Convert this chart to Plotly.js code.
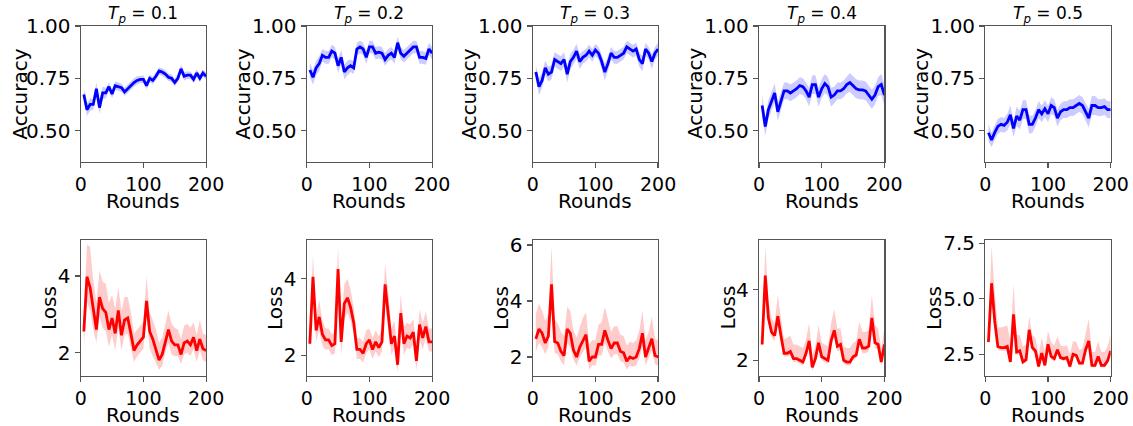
<!DOCTYPE html>
<html>
<head>
<meta charset="utf-8">
<script src="https://cdn.plot.ly/plotly-3.0.1.min.js"></script>
<style>html,body{margin:0;padding:0;background:#fff;}#chart{width:1133px;height:426px;}</style>
</head>
<body>
<div id="chart"></div>
<script>
// ---------- DATA ----------
const rounds = [5,10,15,20,25,30,35,40,45,50,55,60,65,70,75,80,85,90,95,100,
                105,110,115,120,125,130,135,140,145,150,155,160,165,170,175,180,185,190,195,200];

const tpLabels = ["0.1","0.2","0.3","0.4","0.5"];

// Accuracy means
const acc01 = [0.673,0.60,0.625,0.625,0.70,0.61,0.68,0.68,0.71,0.675,0.715,0.71,0.705,0.685,0.70,0.72,0.73,0.74,0.745,0.745,
               0.715,0.75,0.74,0.76,0.785,0.78,0.77,0.755,0.75,0.73,0.75,0.795,0.76,0.765,0.765,0.745,0.775,0.75,0.775,0.76];
const acc02 = [0.79,0.755,0.80,0.82,0.86,0.85,0.85,0.88,0.87,0.81,0.85,0.78,0.80,0.81,0.80,0.89,0.90,0.89,0.85,0.90,
               0.90,0.87,0.875,0.87,0.84,0.86,0.87,0.85,0.92,0.87,0.855,0.87,0.88,0.90,0.90,0.85,0.85,0.845,0.89,0.87];
const acc03 = [0.78,0.71,0.74,0.80,0.77,0.78,0.84,0.83,0.82,0.84,0.77,0.83,0.85,0.88,0.83,0.85,0.86,0.88,0.86,0.885,
               0.87,0.83,0.78,0.82,0.87,0.85,0.85,0.86,0.87,0.90,0.89,0.88,0.89,0.84,0.82,0.89,0.87,0.83,0.87,0.89];
const acc04 = [0.62,0.52,0.60,0.64,0.68,0.59,0.64,0.69,0.69,0.68,0.69,0.70,0.715,0.71,0.69,0.66,0.72,0.72,0.66,0.70,
               0.725,0.71,0.66,0.67,0.69,0.69,0.70,0.72,0.73,0.715,0.70,0.695,0.695,0.69,0.67,0.65,0.67,0.71,0.72,0.67];
const acc05 = [0.49,0.455,0.49,0.52,0.53,0.525,0.54,0.575,0.51,0.57,0.55,0.60,0.60,0.53,0.53,0.56,0.60,0.58,0.605,0.58,
               0.62,0.61,0.56,0.59,0.60,0.60,0.61,0.61,0.62,0.63,0.62,0.59,0.56,0.62,0.62,0.61,0.61,0.615,0.60,0.60];

// Accuracy band half-widths
const accBand01 = [0.03,0.03,0.03,0.025,0.03,0.03,0.03,0.025,0.02,0.02,0.02,0.02,0.02,0.02,0.02,0.02,0.02,0.02,0.018,0.018,
                   0.018,0.018,0.018,0.018,0.018,0.018,0.018,0.018,0.018,0.018,0.018,0.02,0.02,0.018,0.018,0.018,0.018,0.018,0.018,0.018];
const accBand02 = [0.035,0.035,0.035,0.035,0.03,0.03,0.03,0.03,0.03,0.035,0.035,0.035,0.035,0.03,0.03,0.03,0.03,0.03,0.03,0.03,
                   0.03,0.03,0.03,0.03,0.03,0.03,0.03,0.03,0.03,0.03,0.03,0.03,0.03,0.03,0.03,0.03,0.03,0.03,0.03,0.03];
const accBand03 = [0.03,0.04,0.035,0.035,0.035,0.035,0.035,0.035,0.035,0.035,0.04,0.035,0.035,0.035,0.035,0.03,0.03,0.03,0.03,0.03,
                   0.03,0.035,0.04,0.035,0.03,0.03,0.03,0.03,0.03,0.03,0.03,0.03,0.03,0.035,0.035,0.03,0.03,0.035,0.03,0.03];
const accBand04 = [0.05,0.045,0.045,0.045,0.045,0.045,0.045,0.04,0.04,0.04,0.04,0.04,0.04,0.04,0.04,0.045,0.045,0.045,0.045,0.045,
                   0.045,0.045,0.045,0.04,0.04,0.04,0.04,0.04,0.045,0.045,0.045,0.045,0.045,0.045,0.045,0.045,0.045,0.045,0.05,0.05];
const accBand05 = [0.04,0.035,0.035,0.035,0.035,0.035,0.04,0.045,0.04,0.045,0.045,0.045,0.045,0.045,0.04,0.04,0.04,0.04,0.04,0.04,
                   0.04,0.04,0.04,0.04,0.04,0.04,0.04,0.04,0.04,0.04,0.04,0.04,0.045,0.045,0.045,0.04,0.04,0.04,0.04,0.04];

// Loss means
const loss01 = [2.55,3.98,3.7,3.1,2.6,3.45,3.15,3.05,2.6,2.9,2.5,3.1,2.45,2.85,2.9,2.5,2.05,2.2,2.3,2.4,
                3.35,2.55,2.35,2.1,1.8,1.95,2.3,2.6,2.3,2.2,2.2,1.95,2.25,2.3,2.2,2.4,2.05,2.35,2.1,2.05];
const loss02 = [2.3,4.05,2.65,3.0,2.55,2.4,2.4,2.25,2.3,4.25,2.35,3.35,3.5,3.25,2.85,2.15,2.15,2.05,2.3,2.4,
                2.15,2.35,2.2,2.35,3.85,3.15,2.3,2.5,1.75,3.1,2.3,2.5,2.45,2.6,1.85,2.8,2.45,2.75,2.35,2.35];
const loss03 = [2.65,3.0,2.85,2.5,2.75,4.6,2.55,2.5,2.2,2.05,3.0,2.85,2.25,2.0,2.35,2.6,2.8,1.85,2.0,2.0,
                2.45,2.45,2.95,2.6,2.3,2.5,2.5,2.2,2.15,1.85,2.0,1.95,2.0,2.3,2.85,2.0,2.3,2.65,2.05,2.0];
const loss04 = [2.45,4.4,3.2,2.8,2.7,3.25,2.7,2.2,2.2,2.25,2.05,2.05,2.0,1.95,2.2,2.55,1.8,2.05,2.5,2.1,
                2.05,2.0,2.55,2.85,2.4,2.45,2.0,1.95,1.95,2.1,2.15,2.6,2.35,2.35,2.4,3.2,2.5,2.45,1.95,2.45];
const loss05 = [3.05,5.7,4.0,2.85,2.8,2.8,2.85,2.15,4.3,2.6,2.65,2.15,2.25,3.6,2.8,2.65,1.95,2.55,2.0,2.95,
                2.4,2.3,2.7,2.35,2.3,2.35,1.95,2.5,2.45,2.1,2.1,2.7,3.1,2.0,2.0,2.4,2.0,2.0,2.2,2.65];

// Loss band: upper and lower offsets
const lossHi01 = [0.5,0.85,1.05,0.8,0.7,0.7,0.7,0.75,0.7,0.6,0.65,0.6,0.65,0.6,0.55,0.55,0.45,0.4,0.4,0.4,
                  0.65,0.5,0.5,0.5,0.45,0.45,0.45,0.5,0.45,0.45,0.4,0.4,0.45,0.45,0.45,0.4,0.4,0.5,0.4,0.4];
const lossLo01 = [0.4,0.65,0.6,0.5,0.35,0.5,0.5,0.5,0.45,0.45,0.45,0.45,0.4,0.4,0.4,0.4,0.3,0.3,0.3,0.3,
                  0.4,0.45,0.45,0.4,0.25,0.3,0.3,0.35,0.35,0.3,0.3,0.25,0.3,0.3,0.3,0.3,0.3,0.3,0.3,0.3];
const lossHi02 = [0.25,0.6,0.4,0.45,0.35,0.3,0.3,0.3,0.3,0.6,0.45,0.5,0.5,0.45,0.4,0.3,0.3,0.3,0.35,0.3,
                  0.3,0.3,0.3,0.3,0.55,0.5,0.4,0.4,0.4,0.5,0.45,0.35,0.35,0.35,0.4,0.4,0.4,0.4,0.35,0.35];
const lossLo02 = [0.2,0.4,0.3,0.35,0.3,0.25,0.25,0.25,0.25,0.45,0.35,0.4,0.4,0.35,0.3,0.25,0.25,0.25,0.25,0.25,
                  0.25,0.25,0.25,0.25,0.4,0.35,0.3,0.3,0.2,0.4,0.3,0.3,0.3,0.3,0.25,0.35,0.3,0.3,0.25,0.25];
const lossHi03 = [0.9,0.9,0.8,0.8,0.8,1.35,0.8,0.7,0.7,0.7,0.8,0.8,0.7,0.7,0.7,0.8,0.8,0.6,0.6,0.6,
                  0.7,0.8,0.85,0.7,0.6,0.6,0.6,0.6,0.6,0.55,0.55,0.55,0.6,0.65,0.8,0.6,0.6,0.8,0.6,0.6];
const lossLo03 = [0.45,0.5,0.5,0.4,0.4,0.9,0.4,0.4,0.35,0.35,0.5,0.5,0.35,0.3,0.35,0.4,0.45,0.3,0.3,0.3,
                  0.4,0.4,0.45,0.4,0.35,0.4,0.4,0.35,0.35,0.3,0.3,0.3,0.3,0.35,0.45,0.3,0.35,0.4,0.3,0.3];
const lossHi04 = [0.15,0.85,0.5,0.4,0.35,0.6,0.5,0.4,0.45,0.45,0.4,0.4,0.4,0.4,0.4,0.5,0.35,0.35,0.5,0.4,
                  0.4,0.4,0.5,0.6,0.5,0.45,0.4,0.4,0.4,0.4,0.4,0.5,0.45,0.45,0.45,0.65,0.5,0.45,0.4,0.45];
const lossLo04 = [0.1,0.2,0.15,0.15,0.15,0.15,0.15,0.1,0.1,0.1,0.1,0.1,0.1,0.1,0.1,0.15,0.1,0.1,0.15,0.1,
                  0.1,0.1,0.15,0.15,0.15,0.15,0.1,0.1,0.1,0.1,0.1,0.15,0.15,0.15,0.15,0.15,0.15,0.15,0.1,0.15];
const lossHi05 = [0.35,1.7,1.3,0.85,0.9,0.95,0.95,0.9,1.35,0.8,0.7,0.7,0.7,0.6,0.55,0.6,0.5,0.7,0.6,0.6,
                  0.65,0.6,0.6,0.55,0.55,0.55,0.55,0.6,0.6,0.6,0.65,0.75,1.0,0.6,0.6,0.7,0.6,0.6,0.65,0.75];
const lossLo05 = [0.2,0.4,0.3,0.15,0.15,0.15,0.15,0.1,0.3,0.15,0.15,0.1,0.1,0.2,0.15,0.15,0.1,0.15,0.1,0.15,
                  0.15,0.1,0.15,0.1,0.1,0.1,0.1,0.1,0.1,0.1,0.1,0.15,0.2,0.1,0.1,0.15,0.1,0.1,0.1,0.15];

const accSeries = [acc01, acc02, acc03, acc04, acc05];
const accBands = [accBand01, accBand02, accBand03, accBand04, accBand05];
const lossSeries = [loss01, loss02, loss03, loss04, loss05];
const lossHis = [lossHi01, lossHi02, lossHi03, lossHi04, lossHi05];
const lossLos = [lossLo01, lossLo02, lossLo03, lossLo04, lossLo05];

const accTickVals = [0.5, 0.75, 1.0];
const accTickText = ["0.50", "0.75", "1.00"];
const lossTickVals = [[2,4],[2,4],[2,4,6],[2,4],[2.5,5.0,7.5]];
const lossTickText = [["2","4"],["2","4"],["2","4","6"],["2","4"],["2.5","5.0","7.5"]];
const accRange = [0.35, 1.0];
const lossRanges = [[1.40,4.94],[1.47,5.01],[1.34,6.18],[1.57,5.41],[1.54,7.65]];
const xTickVals = [0, 100, 200];

// ---------- LAYOUT ----------
const W = 1133, H = 426;
const lefts = [80.7, 306.7, 532.7, 759.0, 985.3];
const pw = 125.4;
const rowsPx = [[26, 162], [240, 375.5]];
const yLabelOffset = [[61,64,64,64,64],[32.4,32.4,31.5,31.3,52]];
const FONT = "DejaVu Sans, Liberation Sans, sans-serif";
const frameColor = "#555555";
const XTICK_SIZE = 19;
const YTICK_SIZE = 20;
const LABEL_SIZE = 20;

const traces = [];
const layout = {
  width: W, height: H,
  margin: {l:0, r:0, t:0, b:0},
  paper_bgcolor: "#ffffff", plot_bgcolor: "#ffffff",
  showlegend: false,
  annotations: []
};

function addPanel(row, col, mean, lo, hi, color, fill, yTitle, range, tv, tt) {
  const n = row*5 + col + 1;
  const xa = n === 1 ? "x" : "x" + n;
  const ya = n === 1 ? "y" : "y" + n;
  const lower = mean.map((v,i) => v - lo[i]);
  const upper = mean.map((v,i) => v + hi[i]);
  traces.push({x: rounds, y: lower, xaxis: xa, yaxis: ya, mode: "lines",
               line: {width: 0, color: fill}, hoverinfo: "skip"});
  traces.push({x: rounds, y: upper, xaxis: xa, yaxis: ya, mode: "lines", fill: "tonexty",
               fillcolor: fill, line: {width: 0, color: fill}, hoverinfo: "skip"});
  traces.push({x: rounds, y: mean, xaxis: xa, yaxis: ya, mode: "lines",
               line: {width: 2.8, color: color}});
  const [top, bot] = rowsPx[row];
  const axCommon = {
    showline: true, mirror: true, linecolor: frameColor, linewidth: 1.2,
    ticks: "outside", ticklen: 5, tickwidth: 1.2, tickcolor: frameColor,
    showgrid: false, zeroline: false, fixedrange: true
  };
  layout["xaxis" + (n===1?"":n)] = Object.assign({}, axCommon, {
    domain: [lefts[col]/W, (lefts[col]+pw)/W], anchor: ya,
    range: [0, 200], tickvals: xTickVals, ticktext: xTickVals.map(String),
    tickfont: {family: FONT, size: XTICK_SIZE, color: "#000"}
  });
  layout["yaxis" + (n===1?"":n)] = Object.assign({}, axCommon, {
    domain: [(H-bot)/H, (H-top)/H], anchor: xa,
    range: range, tickvals: tv, ticktext: tt,
    tickfont: {family: FONT, size: YTICK_SIZE, color: "#000"}
  });
  // x title
  layout.annotations.push({text: "Rounds", xref: "paper", yref: "paper",
    x: (lefts[col] + pw/2)/W, y: (H - (bot + 39))/H, xanchor: "center", yanchor: "middle",
    showarrow: false, font: {family: FONT, size: LABEL_SIZE, color: "#000"}});
  // y title
  layout.annotations.push({text: yTitle, xref: "paper", yref: "paper", textangle: -90,
    x: (lefts[col] - yLabelOffset[row][col])/W, y: (H - (top+bot)/2)/H, xanchor: "center", yanchor: "middle",
    showarrow: false, font: {family: FONT, size: LABEL_SIZE, color: "#000"}});
}

for (let c = 0; c < 5; c++) {
  addPanel(0, c, accSeries[c], accBands[c], accBands[c], "#0000ff", "rgba(0,0,255,0.2)",
           "Accuracy", accRange, accTickVals, accTickText);
  addPanel(1, c, lossSeries[c], lossLos[c], lossHis[c], "#ff0000", "rgba(255,0,0,0.2)",
           "Loss", lossRanges[c], lossTickVals[c], lossTickText[c]);
  layout.annotations.push({
    text: "<i>T</i><sub><i>p</i></sub> = " + tpLabels[c],
    xref: "paper", yref: "paper", x: (lefts[c] + pw/2)/W, y: (H - 14)/H,
    xanchor: "center", yanchor: "middle", showarrow: false,
    font: {family: FONT, size: 17, color: "#000"}
  });
}

Plotly.newPlot("chart", traces, layout, {displayModeBar: false, staticPlot: true});
</script>
</body>
</html>
